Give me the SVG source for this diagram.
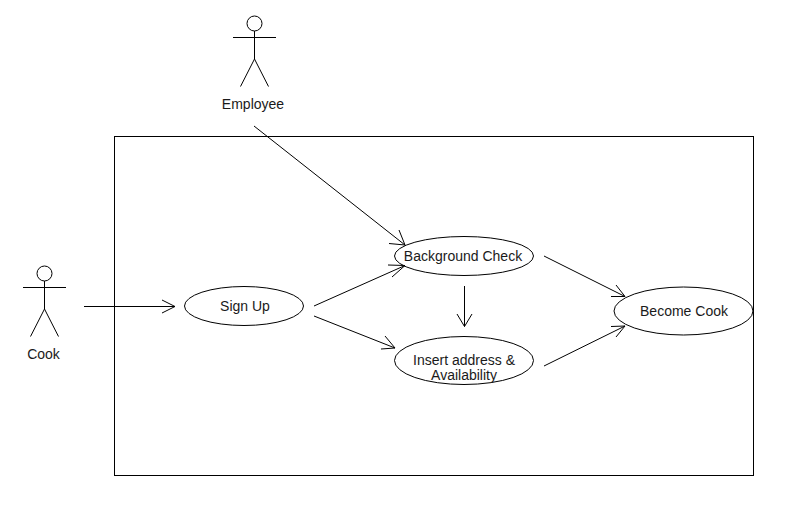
<svg xmlns="http://www.w3.org/2000/svg" width="795" height="511" viewBox="0 0 795 511">
<style>
text{font-family:"Liberation Sans",Arial,sans-serif;font-size:14px;fill:#1a1a1a;text-anchor:middle}
.s{fill:none;stroke:#000;stroke-width:1}
.e{fill:#fff;stroke:#000;stroke-width:1}
</style>
<defs>
<g id="actor" class="s"><circle cx="0" cy="23.500" r="7.500"/><path d="M0 31V59M-21.500 37.500H21.500M-14 86.500L0 59L14 86.500"/></g>
</defs>
<rect width="795" height="511" fill="#fff"/>
<g id="system"><rect class="s" x="114.500" y="136.500" width="639" height="339"/></g>
<g id="uc-background"><ellipse class="e" cx="464" cy="256" rx="69.500" ry="19.500"/><text x="463" y="260.500">Background Check</text></g>
<g id="uc-signup"><ellipse class="e" cx="244" cy="306" rx="59.500" ry="19.500"/><text x="245" y="311">Sign Up</text></g>
<g id="uc-insert"><ellipse class="e" cx="464" cy="360.500" rx="69.500" ry="24"/><text x="464" y="364.500">Insert address &amp;</text><text x="464" y="380">Availability</text></g>
<g id="uc-become"><ellipse class="e" cx="683.500" cy="311" rx="69.500" ry="24"/><text x="684" y="316">Become Cook</text></g>
<g id="actor-employee"><use href="#actor" x="254.500" y="0"/><text x="253" y="109">Employee</text></g>
<g id="actor-cook"><use href="#actor" x="44.500" y="250"/><text x="43.500" y="358.500">Cook</text></g>
<g id="connectors" class="s">
<path d="M254 126L405 245M389 243.500L405 245L399 230"/>
<path d="M84 306.500H175M162 300L175 306.500L162 313"/>
<path d="M314 306L405 265.500M392 277L405 265.500L388 265"/>
<path d="M314 316L395 348M385 336L395 348L381 349"/>
<path d="M464.500 286V326.500M457 314L464.500 326.500L472 314"/>
<path d="M544 256L625 296.500M616 285L625 296.500L611 296.500"/>
<path d="M544 366L625 326M611 326.500L625 326L616 337"/>
</g>
</svg>
